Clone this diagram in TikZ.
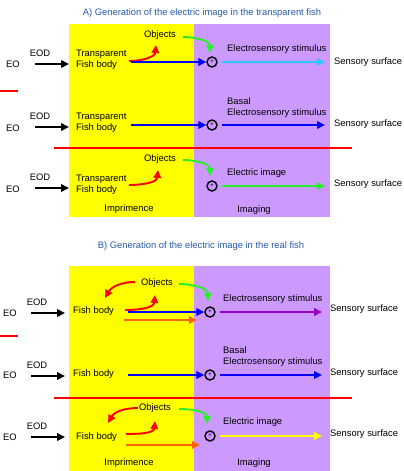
\documentclass[tikz,border=0pt]{standalone}
\usepackage{fontspec}
\setmainfont{Liberation Sans}
\usetikzlibrary{arrows.meta}
\definecolor{yel}{RGB}{255,255,0}
\definecolor{vio}{RGB}{204,153,255}
\definecolor{ttl}{RGB}{40,90,170}
\definecolor{grn}{RGB}{40,240,40}
\definecolor{cyn}{RGB}{40,200,255}
\definecolor{blu}{RGB}{0,0,255}
\definecolor{pur}{RGB}{150,0,200}
\definecolor{org}{RGB}{255,100,0}
\definecolor{ylw}{RGB}{255,255,0}
\begin{document}
\begin{tikzpicture}[x=1pt,y=-1pt,
  every node/.style={font=\fontsize{9.4}{11}\selectfont, inner sep=0pt},
  lbl/.style={anchor=west, align=left},
  ttlstyle/.style={text=ttl},
  arr/.style={line width=1.9pt, -{Triangle[length=8pt,width=7.5pt]}},
  sumc/.style={circle, draw=black, line width=1.4pt, minimum size=10pt, inner sep=0pt, font=\fontsize{6.5}{6.5}\selectfont},
  sep/.style={draw=red, line width=1.4pt}]
\useasboundingbox (0,0) rectangle (404,471);
\fill[white] (0,0) rectangle (404,471);

% ---------- Panel A ----------
\node[ttlstyle] (tA) at (202,13) {A) Generation of the electric image in the transparent fish};
\fill[yel] (69,24) rectangle (194,217);
\fill[vio] (194,24) rectangle (330,217);

% row A1
\node (eoA1) at (13,64) {EO};
\node (eodA1) at (40,53) {EOD};
\coordinate (bA1s) at (35,64); \coordinate (bA1e) at (69,64);
\draw[arr,black] (bA1s) -- (bA1e);
\node[lbl] (fbA1) at (76,59.5) {Transparent\\Fish body};
\node (obA1) at (160,35) {Objects};
\coordinate (rA1s) at (129,61); \coordinate (rA1e) at (156,45);
\draw[arr,red] (rA1s) to[out=0,in=-95] (rA1e);
\coordinate (gA1s) at (183,37); \coordinate (gA1e) at (210,53);
\draw[arr,grn] (gA1s) to[out=0,in=90] (gA1e);
\node[sumc] (cA1) at (212,62) {+};
\coordinate (blA1s) at (131,62);
\draw[arr,blu] (blA1s) -- (cA1.west);
\node[lbl] (esA1) at (227,49) {Electrosensory stimulus};
\coordinate (cyA1e) at (325,62);
\draw[arr,cyn] ([xshift=4pt]cA1.east) -- (cyA1e);
\node[lbl] (ssA1) at (334,62) {Sensory surface};
\coordinate (slA1a) at (0,91); \coordinate (slA1b) at (18,91);
\draw[sep] (slA1a) -- (slA1b);

% row A2
\node (eoA2) at (13,128) {EO};
\node (eodA2) at (40,116) {EOD};
\coordinate (bA2s) at (35,127); \coordinate (bA2e) at (69,127);
\draw[arr,black] (bA2s) -- (bA2e);
\node[lbl] (fbA2) at (76,122.5) {Transparent\\Fish body};
\node[sumc] (cA2) at (212,125) {+};
\coordinate (blA2s) at (131,125);
\draw[arr,blu] (blA2s) -- (cA2.west);
\node[lbl] (esA2) at (227,107.5) {Basal\\Electrosensory stimulus};
\coordinate (blA2e) at (325,125);
\draw[arr,blu] ([xshift=4pt]cA2.east) -- (blA2e);
\node[lbl] (ssA2) at (334,124) {Sensory surface};
\coordinate (slA2a) at (54,148); \coordinate (slA2b) at (352,148);
\draw[sep] (slA2a) -- (slA2b);

% row A3
\node (obA3) at (160,159) {Objects};
\node (eoA3) at (13,189) {EO};
\node (eodA3) at (40,177) {EOD};
\coordinate (bA3s) at (35,188); \coordinate (bA3e) at (69,188);
\draw[arr,black] (bA3s) -- (bA3e);
\node[lbl] (fbA3) at (76,184.5) {Transparent\\Fish body};
\coordinate (rA3s) at (129,185); \coordinate (rA3e) at (158,170);
\draw[arr,red] (rA3s) to[out=0,in=-95] (rA3e);
\coordinate (gA3s) at (183,160); \coordinate (gA3e) at (210,176);
\draw[arr,grn] (gA3s) to[out=0,in=90] (gA3e);
\node[sumc] (cA3) at (212,186) {+};
\node[lbl] (eiA3) at (227,173) {Electric image};
\coordinate (gA3f) at (325,186);
\draw[arr,grn] ([xshift=4pt]cA3.east) -- (gA3f);
\node[lbl] (ssA3) at (334,184) {Sensory surface};
\node (impA) at (129,209) {Imprimence};
\node (imgA) at (254,210) {Imaging};

% ---------- Panel B ----------
\node[ttlstyle] (tB) at (201,246) {B) Generation of the electric image in the real fish};
\fill[yel] (69,266) rectangle (194,471);
\fill[vio] (194,266) rectangle (330,471);

% row B1
\node (obB1) at (157,283) {Objects};
\node (eoB1) at (10,313) {EO};
\node (eodB1) at (37,302) {EOD};
\coordinate (bB1s) at (31,313); \coordinate (bB1e) at (65,313);
\draw[arr,black] (bB1s) -- (bB1e);
\node[lbl] (fbB1) at (73,311) {Fish body};
\coordinate (rB1a) at (135,282); \coordinate (rB1b) at (105,298);
\draw[arr,red] (rB1a) to[out=180,in=60] (rB1b);
\coordinate (rB1s) at (125,310); \coordinate (rB1e) at (155,295);
\draw[arr,red] (rB1s) to[out=0,in=-95] (rB1e);
\coordinate (gB1s) at (179,284); \coordinate (gB1e) at (208,301);
\draw[arr,grn] (gB1s) to[out=0,in=90] (gB1e);
\node[sumc] (cB1) at (210,312) {+};
\coordinate (blB1s) at (128,312);
\draw[arr,blu] (blB1s) -- (cB1.west);
\coordinate (oB1s) at (124,320); \coordinate (oB1e) at (197,320);
\draw[arr,org] (oB1s) -- (oB1e);
\node[lbl] (esB1) at (223,299) {Electrosensory stimulus};
\coordinate (pB1e) at (322,312);
\draw[arr,pur] ([xshift=4pt]cB1.east) -- (pB1e);
\node[lbl] (ssB1) at (330,309) {Sensory surface};
\coordinate (slB1a) at (0,336); \coordinate (slB1b) at (18,336);
\draw[sep] (slB1a) -- (slB1b);

% row B2
\node[lbl] (esB2) at (223,357) {Basal\\Electrosensory stimulus};
\node (eoB2) at (10,375) {EO};
\node (eodB2) at (37,365) {EOD};
\coordinate (bB2s) at (31,376); \coordinate (bB2e) at (65,376);
\draw[arr,black] (bB2s) -- (bB2e);
\node[lbl] (fbB2) at (73,374) {Fish body};
\node[sumc] (cB2) at (210,375) {+};
\coordinate (blB2s) at (128,375);
\draw[arr,blu] (blB2s) -- (cB2.west);
\coordinate (blB2e) at (322,375);
\draw[arr,blu] ([xshift=4pt]cB2.east) -- (blB2e);
\node[lbl] (ssB2) at (330,373) {Sensory surface};
\coordinate (slB2a) at (54,398); \coordinate (slB2b) at (352,398);
\draw[sep] (slB2a) -- (slB2b);

% row B3
\node (obB3) at (155,408) {Objects};
\node (eoB3) at (10,437) {EO};
\node (eodB3) at (37,426) {EOD};
\coordinate (bB3s) at (31,437); \coordinate (bB3e) at (65,437);
\draw[arr,black] (bB3s) -- (bB3e);
\node[lbl] (fbB3) at (76,437) {Fish body};
\coordinate (rB3a) at (138,408); \coordinate (rB3b) at (108,423);
\draw[arr,red] (rB3a) to[out=180,in=60] (rB3b);
\coordinate (rB3s) at (126,434); \coordinate (rB3e) at (155,421);
\draw[arr,red] (rB3s) to[out=0,in=-95] (rB3e);
\coordinate (gB3s) at (179,409); \coordinate (gB3e) at (207,424);
\draw[arr,grn] (gB3s) to[out=0,in=90] (gB3e);
\node[sumc] (cB3) at (210,436) {+};
\coordinate (oB3s) at (126,445); \coordinate (oB3e) at (200,445);
\draw[arr,org] (oB3s) -- (oB3e);
\node[lbl] (eiB3) at (223,422) {Electric image};
\coordinate (yB3e) at (322,436);
\draw[arr,ylw] ([xshift=4pt]cB3.east) -- (yB3e);
\node[lbl] (ssB3) at (330,434) {Sensory surface};
\node (impB) at (129,463) {Imprimence};
\node (imgB) at (254,463) {Imaging};
\end{tikzpicture}
\end{document}
